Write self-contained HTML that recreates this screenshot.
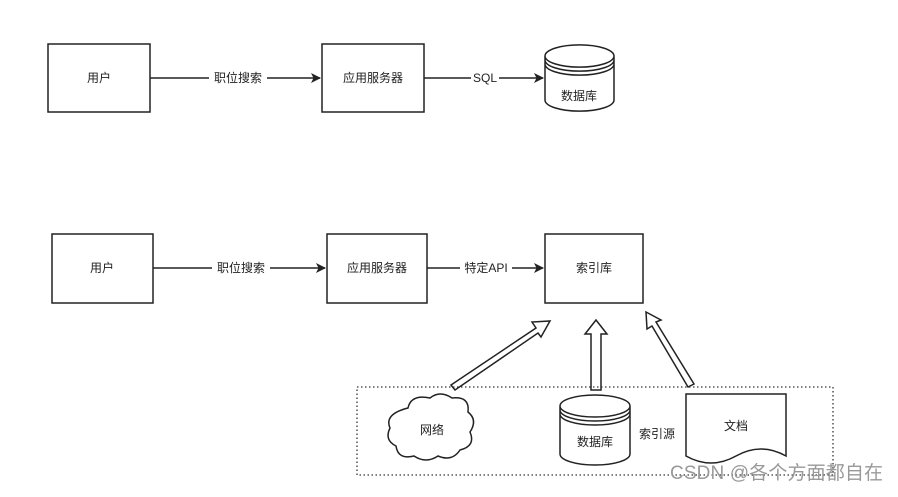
<!DOCTYPE html><html><head><meta charset="utf-8"><style>body{margin:0;background:#fff}</style></head><body>
<svg width="898" height="492" xmlns="http://www.w3.org/2000/svg" font-family="Liberation Sans, Noto Sans CJK SC, sans-serif" font-size="12">
<defs><marker id="a" markerWidth="10" markerHeight="10" refX="9" refY="5" orient="auto" markerUnits="userSpaceOnUse"><path d="M0,0L10,5L0,10L2.5,5z" fill="#222"/></marker></defs>
<g fill="#fff" stroke="#222" stroke-width="1.5">
<rect x="48" y="44" width="102" height="68"/><rect x="322" y="44" width="102" height="68"/>
<rect x="52" y="234" width="101" height="69"/><rect x="327" y="234" width="100" height="69"/><rect x="545" y="234" width="98" height="69"/>
<path d="M545,56 v44 a34,11 0 0 0 69,0 v-44 a34,11 0 0 0 -69,0 a34,11 0 0 0 69,0 M545,60 a34,11 0 0 0 69,0 M545,64 a34,11 0 0 0 69,0"/>
<path d="M560,406 v48 a35,11 0 0 0 70,0 v-48 a35,11 0 0 0 -70,0 a35,11 0 0 0 70,0 M560,410 a35,11 0 0 0 70,0 M560,414 a35,11 0 0 0 70,0"/>
<path d="M686,394 h100 v62 q-25,-14 -50,0 t-50,0 z"/>
<path d="M408,408 q3,-14 22,-10 q10,-8 22,0 q18,-2 16,14 q10,8 2,20 q6,14 -10,18 q-8,12 -22,6 q-12,8 -24,0 q-16,4 -18,-10 q-12,-6 -6,-18 q-6,-14 18,-20 z"/>
<path d="M451,385 L536,328 L532,322 L550,321 L541,337 L538,333 L455,390 z"/>
<path d="M591,390 V334 H585 L596,320 L607,334 H601 V390 z"/>
<path d="M688,387 L652,326 L647,329 L646,312 L661,320 L656,322 L694,384 z"/>
</g>
<rect x="357" y="387" width="476" height="88" fill="none" stroke="#333" stroke-width="1.3" stroke-dasharray="1.5,2.5"/>
<g stroke="#222" stroke-width="1.5" marker-end="url(#a)">
<line x1="150" y1="78" x2="320" y2="78"/><line x1="424" y1="78" x2="543" y2="78"/>
<line x1="153" y1="268" x2="325" y2="268"/><line x1="427" y1="268" x2="543" y2="268"/>
</g>
<g fill="#fff"><rect x="209" y="70" width="58" height="16"/><rect x="471" y="70" width="28" height="16"/><rect x="212" y="260" width="58" height="16"/><rect x="460" y="260" width="52" height="16"/></g>
<g fill="#222" text-anchor="middle">
<text x="99" y="82">用户</text><text x="373" y="82">应用服务器</text><text x="579" y="100">数据库</text>
<text x="238" y="82">职位搜索</text><text x="485" y="82">SQL</text>
<text x="102" y="272">用户</text><text x="377" y="272">应用服务器</text><text x="594" y="272">索引库</text>
<text x="241" y="272">职位搜索</text><text x="486" y="272">特定API</text>
<text x="432" y="434">网络</text><text x="595" y="446">数据库</text><text x="657" y="438">索引源</text><text x="736" y="430">文档</text>
</g>
<text x="670" y="479" font-size="19" fill="#999" textLength="213">CSDN @各个方面都自在</text>
</svg></body></html>
